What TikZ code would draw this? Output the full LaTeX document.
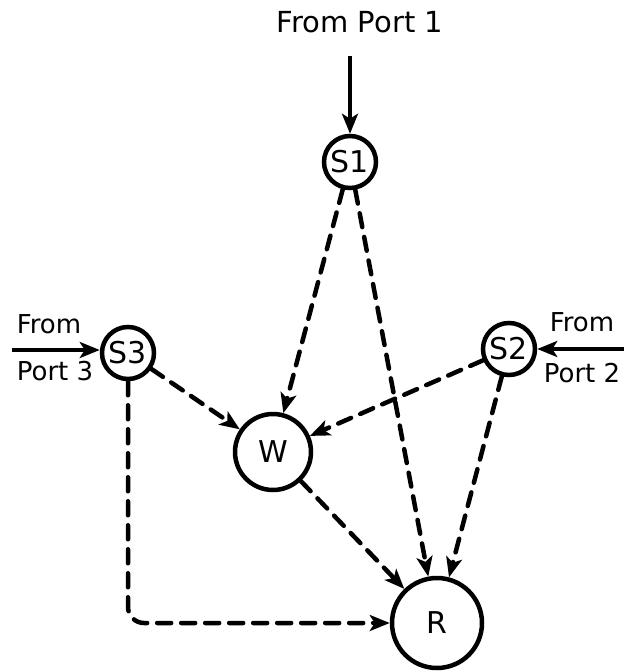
\documentclass[tikz,border=0pt]{standalone}
\usepackage{fontspec}
\setmainfont{DejaVu Sans}
\usetikzlibrary{arrows.meta}
\begin{document}
\begin{tikzpicture}[x=1pt,y=-1pt,
  st/.style={circle,draw,line width=4.5pt,inner sep=0pt,font=\fontsize{30}{32}\selectfont},
  lbl/.style={inner sep=0pt,font=\fontsize{29}{31}\selectfont},
  side/.style={inner sep=0pt,font=\fontsize{26}{28}\selectfont},
  tip/.style={-{Stealth[length=20pt,width=16pt,inset=5pt]}},
  solidarrow/.style={tip,line width=4.5pt},
  dasharrow/.style={tip,line width=4.5pt,dash pattern=on 14pt off 10pt,line cap=round}]
\useasboundingbox (0,0) rectangle (624,671);
\node[st,minimum size=52pt] (S1) at (350,162) {S1};
\node[st,minimum size=52pt] (S3) at (128,353) {S3};
\node[st,minimum size=52pt] (S2) at (509,349) {S2};
\node[st,minimum size=76pt] (W) at (273,452) {W};
\node[st,minimum size=90pt] (R) at (437,623) {R};
\node[lbl] (t1) at (360,22) {From Port 1};
\node[side] (t3a) at (49,324) {From};
\node[side] (t3b) at (55,371) {Port 3};
\node[side] (t2a) at (582,322) {From};
\node[side] (t2b) at (582,373) {Port 2};
\coordinate (p1) at (350,56);
\coordinate (p3) at (12,350);
\coordinate (p2) at (624,349);
\draw[solidarrow] (p1) -- (S1);
\draw[solidarrow] (p3) -- (S3.west |- p3);
\draw[solidarrow] (p2) -- (S2);
\draw[dasharrow] (S1) -- (W);
\draw[dasharrow] (S1) -- (R);
\draw[dasharrow] (S3) -- (W);
\draw[dasharrow] (S2) -- (W);
\draw[dasharrow] (S2) -- (R);
\draw[dasharrow] (W) -- (R);
\draw[dasharrow,rounded corners=16pt] (S3.south) |- (R);
\end{tikzpicture}
\end{document}
